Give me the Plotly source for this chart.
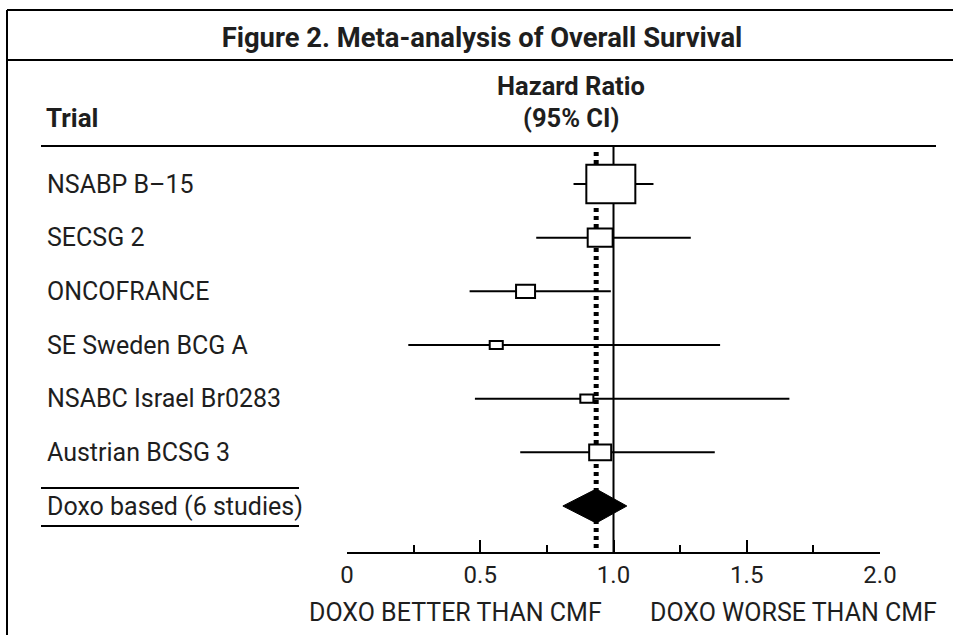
import plotly.graph_objects as go
import math

# ---------------- data ----------------
trials = ["NSABP B–15", "SECSG 2", "ONCOFRANCE", "SE Sweden BCG A",
          "NSABC Israel Br0283", "Austrian BCSG 3"]
hazard_ratio = [0.99, 0.95, 0.67, 0.56, 0.90, 0.95]
ci_low = [0.85, 0.71, 0.46, 0.23, 0.48, 0.65]
ci_high = [1.15, 1.29, 0.99, 1.40, 1.66, 1.38]
weights = [60.5, 15.7, 9.1, 4.3, 4.3, 12.2]

pooled_label = "Doxo based (6 studies)"
pooled_hr = 0.935
pooled_low = 0.81
pooled_high = 1.05

tick_vals = [0, 0.5, 1.0, 1.5, 2.0]
tick_text = ["0", "0.5", "1.0", "1.5", "2.0"]
minor_ticks = [0.25, 0.75, 1.25, 1.75]
end_ticks = [0, 2.0]

title_text = "Figure 2. Meta-analysis of Overall Survival"
left_note = "DOXO BETTER THAN CMF"
right_note = "DOXO WORSE THAN CMF"

# ---------------- layout geometry ----------------
W, H = 953, 635
ML, MR, MT, MB = 347, 73, 146, 83
PW = W - ML - MR
PH = H - MT - MB

def px(p):
    return (p - ML) / PW

def py(p):
    return (H - MB - p) / PH

FONT = "Roboto, Liberation Sans, Arial, sans-serif"
INK = "#1e1e1e"

rows = list(range(len(trials)))
pooled_row = len(trials)
unit = (506 - 184) / pooled_row
y_bottom = pooled_row + (H - MB - 506) / unit
y_top = -(184 - MT) / unit

fig = go.Figure()

fig.add_trace(go.Scatter(
    x=hazard_ratio, y=rows, mode="markers",
    marker=dict(size=1, color="rgba(0,0,0,0)"),
    error_x=dict(type="data", symmetric=False,
                 array=[h - c for c, h in zip(hazard_ratio, ci_high)],
                 arrayminus=[c - l for c, l in zip(hazard_ratio, ci_low)],
                 thickness=2, width=0, color="black"),
    hoverinfo="skip", showlegend=False))

shapes = []
shapes.append(dict(type="line", xref="x", yref="paper", x0=1.0, x1=1.0,
                   y0=0, y1=1, line=dict(color="black", width=2), layer="below"))
shapes.append(dict(type="line", xref="x", yref="paper", x0=pooled_hr, x1=pooled_hr,
                   y0=0.01, y1=0.985, line=dict(color="black", width=5, dash="4px,4px"),
                   layer="below"))
for r, h, w in zip(rows, hazard_ratio, weights):
    bw = 6.3 * math.sqrt(w)
    bh = 0.85 * bw - 3
    shapes.append(dict(type="rect", xref="x", yref="y",
                       xsizemode="pixel", ysizemode="pixel",
                       xanchor=h, yanchor=r,
                       x0=-bw / 2, x1=bw / 2, y0=-bh / 2, y1=bh / 2,
                       line=dict(color="black", width=2), fillcolor="white",
                       layer="above"))
shapes.append(dict(type="path", xref="x", yref="y", ysizemode="pixel",
                   yanchor=pooled_row,
                   path=f"M {pooled_low},0 L {pooled_hr},17 L {pooled_high},0 L {pooled_hr},-17 Z",
                   fillcolor="black", line=dict(color="black", width=1), layer="above"))

shapes += [
    dict(type="line", xref="paper", yref="paper", x0=px(7), x1=px(953), y0=py(10), y1=py(10),
         line=dict(color="black", width=2)),
    dict(type="line", xref="paper", yref="paper", x0=px(7), x1=px(953), y0=py(60), y1=py(60),
         line=dict(color="black", width=2)),
    dict(type="line", xref="paper", yref="paper", x0=px(7), x1=px(7), y0=py(10), y1=py(640),
         line=dict(color="black", width=2)),
    dict(type="line", xref="paper", yref="paper", x0=px(41), x1=px(936), y0=py(146), y1=py(146),
         line=dict(color="black", width=2)),
    dict(type="line", xref="paper", yref="paper", x0=px(41), x1=px(299), y0=py(488), y1=py(488),
         line=dict(color="black", width=2)),
    dict(type="line", xref="paper", yref="paper", x0=px(41), x1=px(299), y0=py(526), y1=py(526),
         line=dict(color="black", width=2)),
]

LBL = 25
annotations = []
for r, t in zip(rows, trials):
    annotations.append(dict(text=t, xref="paper", yref="y", x=px(45), y=r,
                            xanchor="left", yanchor="middle", showarrow=False,
                            font=dict(family=FONT, size=LBL, color=INK)))
annotations.append(dict(text=pooled_label, xref="paper", yref="y", x=px(45), y=pooled_row,
                        xanchor="left", yanchor="middle", showarrow=False,
                        font=dict(family=FONT, size=LBL, color=INK)))
annotations += [
    dict(text="<b>Trial</b>", xref="paper", yref="paper", x=px(44), y=py(118),
         xanchor="left", yanchor="middle", showarrow=False,
         font=dict(family=FONT, size=26, color=INK)),
    dict(text="<b>Hazard Ratio</b>", xref="paper", yref="paper", x=px(571), y=py(86),
         xanchor="center", yanchor="middle", showarrow=False,
         font=dict(family=FONT, size=25.5, color=INK)),
    dict(text="<b>(95% CI)</b>", xref="paper", yref="paper", x=px(571), y=py(118),
         xanchor="center", yanchor="middle", showarrow=False,
         font=dict(family=FONT, size=25.5, color=INK)),
    dict(text=left_note, xref="paper", yref="paper", x=px(455), y=py(612),
         xanchor="center", yanchor="middle", showarrow=False,
         font=dict(family=FONT, size=25, color=INK)),
    dict(text=right_note, xref="paper", yref="paper", x=px(793), y=py(612),
         xanchor="center", yanchor="middle", showarrow=False,
         font=dict(family=FONT, size=25, color=INK)),
]

fig.update_layout(
    width=W, height=H,
    margin=dict(l=ML, r=MR, t=MT, b=MB, pad=0),
    paper_bgcolor="white", plot_bgcolor="white",
    title=dict(text=f"<b>{title_text}</b>", x=482 / W, xref="container", xanchor="center",
               y=1 - 37 / H, yref="container", yanchor="middle",
               font=dict(family=FONT, size=27.4, color=INK)),
    shapes=shapes, annotations=annotations,
    xaxis=dict(range=[0, 2], showgrid=False, zeroline=False, showline=True,
               linecolor="black", linewidth=2, ticks="inside", ticklen=12, tickwidth=2,
               tickcolor="black", tickmode="array", tickvals=tick_vals, ticktext=tick_text,
               tickfont=dict(family=FONT, size=24, color=INK),
               minor=dict(tickmode="array", tickvals=minor_ticks, ticks="inside",
                          ticklen=7, tickwidth=2, tickcolor="black", showgrid=False)),
    xaxis2=dict(range=[0, 2], overlaying="x", anchor="y", side="bottom",
                showgrid=False, zeroline=False, showline=False, showticklabels=False,
                ticks="inside", ticklen=20, tickwidth=2, tickcolor="black",
                tickmode="array", tickvals=end_ticks),
    yaxis=dict(range=[y_bottom, y_top], visible=False),
    showlegend=False,
)

fig.write_html("out.html", post_script="document.body.style.margin='0';",
               config={"displayModeBar": False})
